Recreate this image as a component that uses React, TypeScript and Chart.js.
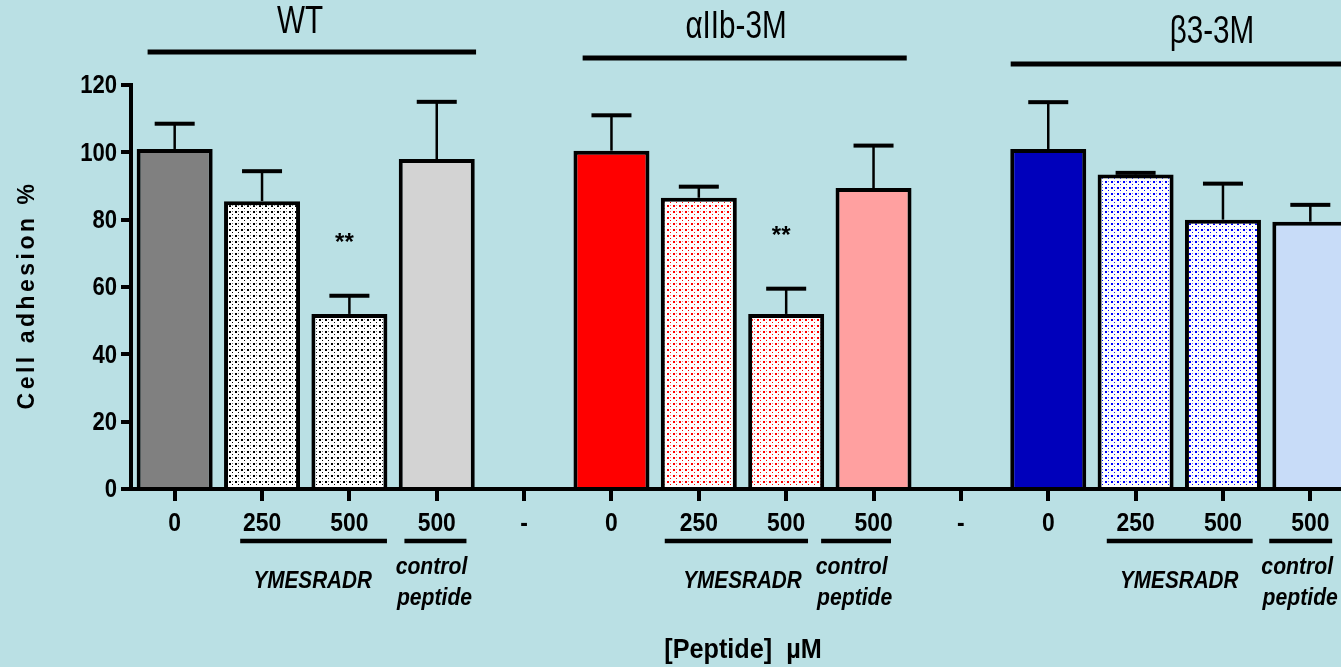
import { useEffect, useRef } from "react";
import { Chart, registerables } from "chart.js";
Chart.register(...registerables);

const categories = ["0", "250", "500", "500", "-", "0", "250", "500", "500", "-", "0", "250", "500", "500"];
const meanValues = [101, 85.5, 52, 98, null, 100.5, 86.5, 52, 89.4, null, 101, 93.4, 80, 79.4];
const errorTops = [108.5, 94.4, 57.4, 115, null, 111, 89.8, 59.5, 102, null, 114.9, 93.9, 90.7, 84.4];
const yTickValues = [0, 20, 40, 60, 80, 100, 120];
const groupTitles = ["WT", "\u03b1IIb-3M", "\u03b23-3M"];
const barFills = ["#808080", "dots:#000000", "dots:#000000", "#d3d3d3", null, "#ff0000", "dots:#ff0000", "dots:#ff0000", "#ffa0a0", null, "#0000bb", "dots:#0000ff", "dots:#0000ff", "#c8dcf8"];
const significance = ["", "", "**", "", "", "", "", "**", "", "", "", "", "", ""];

const BG = "#bae0e4";
const FONT = "'Liberation Sans', Arial, sans-serif";

function makeDots(color: string): CanvasPattern | string {
  const c = document.createElement("canvas");
  c.width = 6;
  c.height = 6;
  const g = c.getContext("2d");
  if (!g) return "#fff";
  g.fillStyle = "#ffffff";
  g.fillRect(0, 0, 6, 6);
  g.fillStyle = color;
  g.fillRect(1, 1, 2, 2);
  g.fillRect(4, 4, 1, 1);
  g.globalAlpha = 0.5;
  g.fillRect(4, 1, 1, 1);
  const p = g.createPattern(c, "repeat");
  return p || "#fff";
}

function txt(ctx: CanvasRenderingContext2D, s: string, x: number, y: number, font: string, sx: number, align: CanvasTextAlign = "center") {
  ctx.save();
  ctx.translate(x, y);
  ctx.scale(sx, 1);
  ctx.font = font;
  ctx.textAlign = align;
  ctx.textBaseline = "middle";
  ctx.fillStyle = "#000";
  ctx.fillText(s, 0, 0);
  ctx.restore();
}

function hline(ctx: CanvasRenderingContext2D, x1: number, x2: number, y: number, w: number) {
  ctx.save();
  ctx.fillStyle = "#000";
  ctx.fillRect(x1, y - w / 2, x2 - x1, w);
  ctx.restore();
}

const annotations = {
  id: "annotations",
  afterDatasetsDraw(chart: any) {
    const ctx: CanvasRenderingContext2D = chart.ctx;
    const ys = chart.scales.y;
    const meta = chart.getDatasetMeta(0);
    ctx.save();
    ctx.strokeStyle = "#000";
    meta.data.forEach((bar: any, i: number) => {
      const e = errorTops[i];
      const m = meanValues[i];
      if (e == null || m == null) return;
      const yTop = ys.getPixelForValue(m);
      const yE = ys.getPixelForValue(e);
      ctx.lineWidth = 2.5;
      ctx.beginPath();
      ctx.moveTo(bar.x, yTop);
      ctx.lineTo(bar.x, yE);
      ctx.stroke();
      ctx.fillStyle = "#000";
      ctx.fillRect(bar.x - 20, yE - 2, 40, 4);
    });
    ctx.restore();
  },
  afterDraw(chart: any) {
    const ctx: CanvasRenderingContext2D = chart.ctx;
    const xs = chart.scales.x;
    const ys = chart.scales.y;
    const c = (i: number) => xs.getPixelForValue(i);
    const step = c(1) - c(0);
    const left = chart.chartArea.left;

    yTickValues.forEach((v) => {
      txt(ctx, String(v), left - 14, ys.getPixelForValue(v) + 1, `bold 26px ${FONT}`, 0.85, "right");
    });
    categories.forEach((lab, i) => {
      txt(ctx, lab, c(i), 524, `bold 26px ${FONT}`, 0.88);
    });

    const groups = [
      { first: 0, last: 3, a: -0.31, b: 0.45, ly: 52, tx: 300, ty: 23 },
      { first: 5, last: 8, a: -0.33, b: 0.38, ly: 58, tx: 736, ty: 28 },
      { first: 10, last: 13, a: -0.43, b: 0.6, ly: 64, tx: 1212, ty: 33 },
    ];
    groups.forEach((g, k) => {
      hline(ctx, c(g.first) + g.a * step, c(g.last) + g.b * step, g.ly, 5);
      txt(ctx, groupTitles[k], g.tx, g.ty, `38px ${FONT}`, 0.78);
    });

    significance.forEach((s, i) => {
      if (!s) return;
      const m = errorTops[i] as number;
      const y = ys.getPixelForValue(m) - 52;
      txt(ctx, s, c(i) - 5, y, `bold 24px ${FONT}`, 1);
    });

    const subs = [
      { p: 1, q: 2, pa: -0.25, qb: 0.43, ca: -0.37, cb: 0.34, yx: 0.08, cx: -0.06 },
      { p: 6, q: 7, pa: -0.39, qb: 0.25, ca: -0.6, cb: 0.2, yx: 0.0, cx: -0.25 },
      { p: 11, q: 12, pa: -0.33, qb: 0.34, ca: -0.47, cb: 0.25, yx: 0.0, cx: -0.15 },
    ];
    subs.forEach((s) => {
      hline(ctx, c(s.p) + s.pa * step, c(s.q) + s.qb * step, 541, 4.5);
      hline(ctx, c(s.q + 1) + s.ca * step, c(s.q + 1) + s.cb * step, 541, 4.5);
      txt(ctx, "YMESRADR", (c(s.p) + c(s.q)) / 2 + s.yx * step, 582, `italic bold 23px ${FONT}`, 0.9);
      txt(ctx, "control", c(s.q + 1) + s.cx * step, 568, `italic bold 23px ${FONT}`, 0.92);
      txt(ctx, "peptide", c(s.q + 1) + s.cx * step + 3, 599, `italic bold 23px ${FONT}`, 0.92);
    });

    txt(ctx, "[Peptide]  \u00b5M", 743, 650, `bold 28px ${FONT}`, 0.9);
    ctx.save();
    ctx.translate(28, 295);
    ctx.rotate(-Math.PI / 2);
    (ctx as any).letterSpacing = "3.5px";
    ctx.font = `bold 23px ${FONT}`;
    ctx.textAlign = "center";
    ctx.textBaseline = "middle";
    ctx.fillStyle = "#000";
    ctx.fillText("Cell adhesion %", 0, 0);
    ctx.restore();
  },
};

export default function App() {
  const ref = useRef<HTMLCanvasElement | null>(null);
  useEffect(() => {
    if (!ref.current) return;
    const fills = barFills.map((f) => {
      if (!f) return "rgba(0,0,0,0)";
      if (f.startsWith("dots:")) return makeDots(f.slice(5));
      return f;
    });
    const chart = new Chart(ref.current, {
      type: "bar",
      data: {
        labels: categories,
        datasets: [
          {
            data: meanValues as any,
            backgroundColor: fills as any,
            borderColor: "#000",
            borderWidth: 4,
            barPercentage: 0.87,
            categoryPercentage: 1,
          },
        ],
      },
      options: {
        animation: false,
        responsive: false,
        layout: { padding: { top: 85, left: 0, right: 0, bottom: 0 } },
        plugins: { legend: { display: false }, tooltip: { enabled: false } },
        scales: {
          x: {
            type: "category",
            offset: true,
            z: 1,
            grid: { display: true, drawOnChartArea: false, drawTicks: true, tickLength: 12, lineWidth: 4, color: "#000", offset: false },
            border: { display: true, width: 4, color: "#000" },
            ticks: { display: false },
            afterFit: (s: any) => {
              s.height = 178;
            },
          },
          y: {
            min: 0,
            max: 120,
            z: 1,
            ticks: { stepSize: 20, display: false },
            grid: { display: true, drawOnChartArea: false, drawTicks: true, tickLength: 10, lineWidth: 4, color: "#000" },
            border: { display: true, width: 4, color: "#000" },
            afterFit: (s: any) => {
              s.width = 131;
            },
          },
        },
      } as any,
      plugins: [annotations],
    });
    return () => chart.destroy();
  }, []);
  return (
    <div style={{ position: "fixed", left: 0, top: 0, width: 1341, height: 667, overflow: "hidden", background: BG }}>
      <canvas ref={ref} width={1354} height={667} style={{ display: "block" }} />
    </div>
  );
}
